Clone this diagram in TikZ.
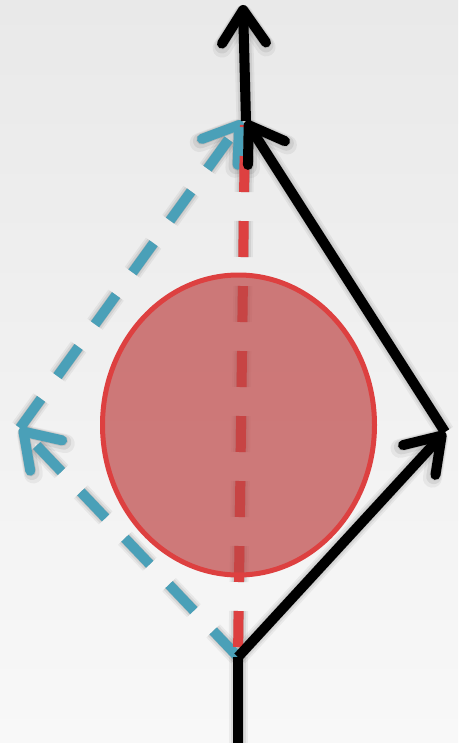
\documentclass[tikz,border=0pt]{standalone}
\usetikzlibrary{arrows.meta,shapes.geometric}
\definecolor{bgtop}{RGB}{233,233,233}
\definecolor{bgbot}{RGB}{248,248,248}
\definecolor{myblue}{RGB}{74,160,184}
\definecolor{myred}{RGB}{221,64,64}
\definecolor{ellfill}{RGB}{190,70,70}
\tikzset{
  barb/.style={-{Straight Barb[length=33pt,width=44pt,round]}},
  blackline/.style={line width=10pt, draw=black},
  blueline/.style={line width=10pt, draw=myblue, dash pattern=on 36pt off 28pt},
  redline/.style={line width=10pt, draw=myred, dash pattern=on 36pt off 29pt, dash phase=55pt},
  ball/.style={ellipse, inner sep=0pt, minimum width=272pt, minimum height=300pt,
     draw=myred, line width=5pt, fill=ellfill, fill opacity=0.7},
}
\begin{document}
\begin{tikzpicture}[x=1pt,y=-1pt]
\useasboundingbox (0,0) rectangle (458,743);
\shade[top color=bgtop,bottom color=bgbot] (0,0) rectangle (458,743);
% coordinates
\coordinate (b0) at (238,745);
\coordinate (j) at (238,657);
\coordinate (r) at (445,432);
\coordinate (t) at (246,121);
\coordinate (tb) at (242,121);
\coordinate (top) at (243,5);
\coordinate (l) at (20,428);
\coordinate (rt) at (245,125);
% shadows
\foreach \w/\o in {19/0.05,15/0.07,11/0.10}{
\begin{scope}[shift={(3,6)}, draw opacity=\o, line width=\w pt]
  \draw[black, dash pattern=on 36pt off 28pt, barb] (j) -- (l);
  \draw[black, dash pattern=on 36pt off 28pt, barb] (l) -- (tb);
  \draw[black, dash pattern=on 36pt off 29pt, dash phase=55pt] (j) -- (rt);
  \draw[black] (b0) -- (j);
  \draw[black, barb] (j) -- (r);
  \draw[black, barb] (r) -- (t);
  \draw[black, barb] (t) -- (top);
\end{scope}
}
% blue dashed path
\draw[blueline, barb] (j) -- (l);
\draw[blueline, barb] (l) -- (tb);
% red dashed vertical
\draw[redline] (j) -- (rt);
% red ball
\node[ball] (ballnode) at (238.5,425) {};
% black path
\draw[blackline] (b0) -- (j);
\draw[blackline, barb] (j) -- (r);
\draw[blackline, barb] (r) -- (t);
\draw[blackline, barb] (t) -- (top);
\end{tikzpicture}
\end{document}
